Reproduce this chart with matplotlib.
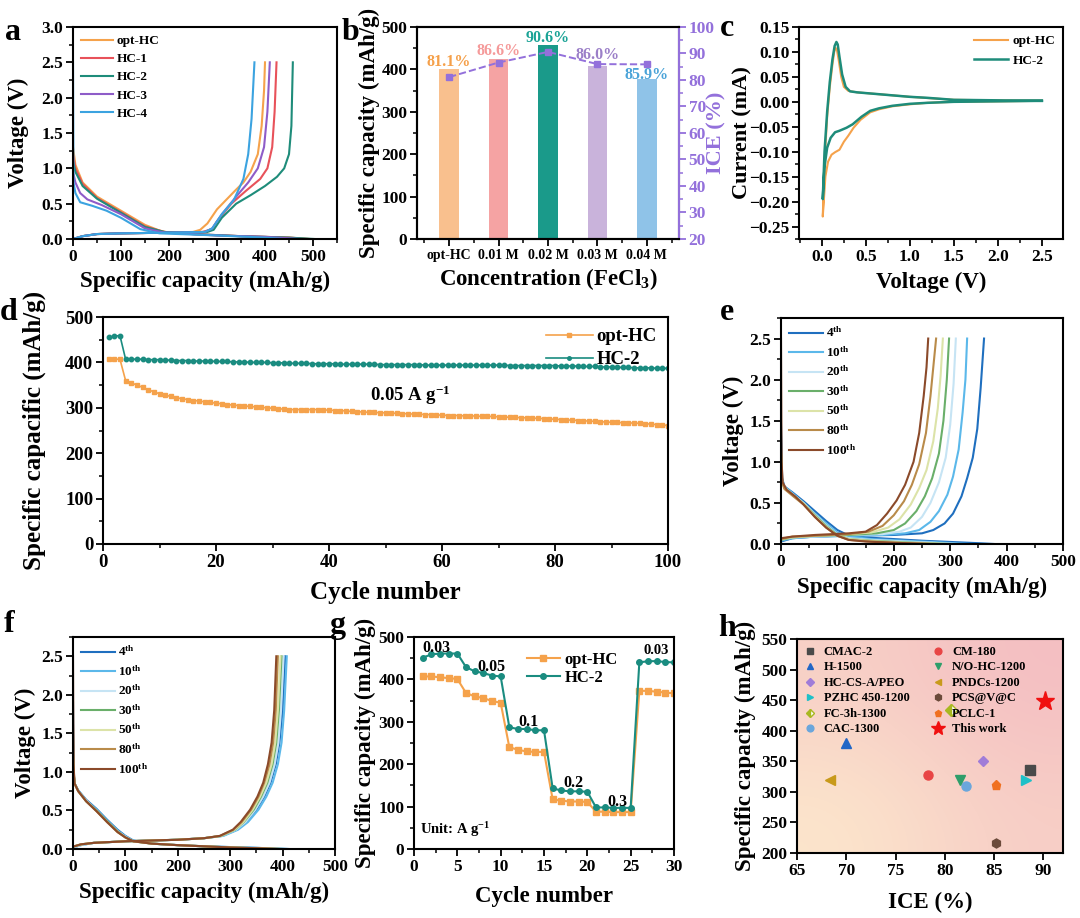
import numpy as np
import matplotlib
matplotlib.use('Agg')
import matplotlib.pyplot as plt
from matplotlib.ticker import MultipleLocator
from matplotlib.colors import LinearSegmentedColormap

plt.rcParams.update({
    'font.family': ['Liberation Serif', 'DejaVu Serif'],
    'font.weight': 'bold',
    'axes.labelweight': 'bold',
    'axes.linewidth': 1.5,
    'xtick.major.width': 1.3, 'ytick.major.width': 1.3,
    'xtick.minor.width': 1.1, 'ytick.minor.width': 1.1,
    'xtick.major.size': 5, 'ytick.major.size': 5,
    'xtick.minor.size': 3, 'ytick.minor.size': 3,
    'xtick.direction': 'out', 'ytick.direction': 'out',
    'xtick.major.pad': 2.5, 'ytick.major.pad': 2.0,
    'xtick.labelsize': 12.5, 'ytick.labelsize': 12.5,
    'mathtext.fontset': 'custom',
    'mathtext.rm': 'Liberation Serif:bold',
    'mathtext.bf': 'Liberation Serif:bold',
    'mathtext.it': 'Liberation Serif:bold:italic',
    'legend.frameon': False,
})

# ---------------- DATA ----------------
# (a) first-cycle GCD curves: capacity (mAh/g), voltage (V)
a_labels = ['opt-HC', 'HC-1', 'HC-2', 'HC-3', 'HC-4']
a_colors = ['#F5A24B', '#E8525A', '#1E8C7A', '#8E5CC8', '#3BA3E0']
a_charge = {
    'opt-HC': ([0, 20, 50, 100, 200, 250, 265, 280, 300, 320, 340, 355, 370, 385, 393, 398, 400],
               [0.0, 0.04, 0.07, 0.08, 0.09, 0.10, 0.13, 0.22, 0.42, 0.56, 0.70, 0.80, 0.95, 1.2, 1.6, 2.1, 2.5]),
    'HC-1': ([0, 20, 50, 100, 200, 270, 290, 300, 330, 360, 390, 405, 415, 420, 424],
             [0.0, 0.04, 0.07, 0.08, 0.09, 0.10, 0.14, 0.25, 0.50, 0.68, 0.85, 1.0, 1.3, 1.8, 2.5]),
    'HC-2': ([0, 20, 50, 100, 200, 280, 293, 310, 340, 370, 400, 425, 440, 450, 455, 458],
             [0.0, 0.04, 0.07, 0.08, 0.09, 0.10, 0.13, 0.30, 0.50, 0.62, 0.75, 0.88, 1.0, 1.2, 1.6, 2.5]),
    'HC-3': ([0, 20, 50, 100, 200, 275, 290, 310, 340, 365, 385, 398, 405, 410],
             [0.0, 0.04, 0.07, 0.08, 0.09, 0.10, 0.15, 0.35, 0.60, 0.80, 1.0, 1.3, 1.8, 2.5]),
    'HC-4': ([0, 20, 50, 100, 200, 275, 290, 310, 335, 355, 365, 372, 378],
             [0.0, 0.04, 0.07, 0.08, 0.09, 0.10, 0.15, 0.35, 0.55, 0.85, 1.2, 1.7, 2.5]),
}
a_discharge = {
    'opt-HC': ([0, 5, 20, 50, 100, 150, 180, 200, 250, 300, 400, 450, 493],
               [1.3, 1.05, 0.8, 0.6, 0.4, 0.2, 0.12, 0.09, 0.07, 0.05, 0.03, 0.02, 0.0]),
    'HC-1': ([0, 5, 20, 50, 100, 150, 190, 250, 350, 450, 491],
             [1.2, 1.0, 0.78, 0.58, 0.38, 0.18, 0.10, 0.07, 0.04, 0.02, 0.0]),
    'HC-2': ([0, 5, 20, 50, 100, 150, 190, 250, 350, 450, 503],
             [1.1, 0.95, 0.75, 0.57, 0.37, 0.17, 0.10, 0.07, 0.04, 0.02, 0.0]),
    'HC-3': ([0, 5, 15, 30, 60, 100, 150, 190, 300, 400, 474],
             [0.95, 0.8, 0.65, 0.56, 0.48, 0.35, 0.15, 0.09, 0.05, 0.03, 0.0]),
    'HC-4': ([0, 1, 5, 15, 40, 70, 100, 140, 180, 300, 400, 440],
             [2.5, 0.8, 0.65, 0.52, 0.47, 0.40, 0.30, 0.14, 0.08, 0.05, 0.02, 0.0]),
}

# (b) capacity bars and ICE
b_categories = ['opt-HC', '0.01 M', '0.02 M', '0.03 M', '0.04 M']
b_capacity = [400, 425, 458, 407, 378]
b_ice = [81.1, 86.6, 90.6, 86.0, 85.9]
b_ice_labels = ['81.1%', '86.6%', '90.6%', '86.0%', '85.9%']
b_label_y = [417, 443, 475, 433, 386]
b_bar_colors = ['#F9C08E', '#F5A3A3', '#1A9A8A', '#C9B3DB', '#8FC3E8']
b_text_colors = ['#F5A04A', '#F59A9A', '#1AA396', '#9B7FC8', '#4AA3D8']

# (c) CV curves: voltage (V), current (mA)
c_hc2_v = [2.5, 2.0, 1.5, 1.2, 1.0, 0.8, 0.65, 0.55, 0.45, 0.35, 0.28, 0.2, 0.15, 0.1, 0.06, 0.03, 0.01,
           0.03, 0.06, 0.09, 0.12, 0.145, 0.165, 0.18, 0.2, 0.23, 0.27, 0.32, 0.4, 0.6, 0.8, 1.0, 1.2, 1.5, 2.0, 2.5]
c_hc2_i = [0.002, 0.001, 0.0, -0.002, -0.004, -0.008, -0.013, -0.018, -0.03, -0.045, -0.052, -0.058, -0.061,
           -0.072, -0.092, -0.13, -0.195,
           -0.1, -0.02, 0.04, 0.085, 0.112, 0.12, 0.115, 0.09, 0.055, 0.03, 0.021, 0.019, 0.016, 0.013, 0.010,
           0.008, 0.004, 0.003, 0.002]
c_opt_v = [2.5, 2.0, 1.5, 1.2, 1.0, 0.8, 0.65, 0.55, 0.44, 0.36, 0.3, 0.25, 0.2, 0.15, 0.11, 0.07, 0.04, 0.01,
           0.03, 0.06, 0.09, 0.12, 0.14, 0.155, 0.17, 0.19, 0.22, 0.25, 0.3, 0.4, 0.6, 0.8, 1.0, 1.5, 2.0, 2.5]
c_opt_i = [0.002, 0.001, 0.0, -0.002, -0.005, -0.009, -0.015, -0.021, -0.036, -0.052, -0.068, -0.08, -0.096,
           -0.101, -0.106, -0.12, -0.15, -0.23,
           -0.12, -0.03, 0.03, 0.075, 0.1, 0.108, 0.105, 0.085, 0.05, 0.03, 0.022, 0.019, 0.016, 0.013, 0.010,
           0.004, 0.003, 0.002]

# (d) cycling at 0.05 A/g
d_cycles = list(range(1, 101))
d_opt = [407, 407, 407, 360, 355, 350, 345, 340, 335, 331,
         328, 325, 322, 320, 318, 316, 315, 313, 312, 310,
         309, 307, 306, 305, 304, 303, 302, 301, 300, 299,
         298, 297, 296, 296, 296, 296, 296, 296, 295, 295,
         294, 294, 293, 292, 291, 291, 290, 290, 289, 289,
         288, 288, 287, 287, 286, 286, 285, 285, 284, 284,
         283, 283, 283, 282, 282, 282, 281, 281, 281, 280,
         280, 279, 279, 278, 278, 277, 277, 276, 275, 275,
         274, 273, 273, 272, 271, 271, 270, 269, 269, 268,
         268, 267, 267, 266, 266, 265, 264, 263, 262, 261]
d_hc2 = [455, 458, 459, 407, 407, 407, 407, 406, 406, 406,
         405, 405, 404, 404, 404, 403, 403, 403, 403, 402,
         402, 402, 401, 401, 401, 400, 400, 400, 400, 399,
         399, 399, 398, 398, 398, 398, 397, 397, 397, 397,
         397, 396, 396, 396, 396, 396, 396, 396, 395, 395,
         395, 395, 395, 395, 395, 395, 394, 394, 394, 394,
         394, 394, 394, 394, 394, 394, 394, 394, 394, 394,
         394, 393, 393, 393, 393, 393, 393, 393, 393, 393,
         392, 392, 392, 392, 391, 391, 391, 390, 390, 390,
         389, 389, 389, 388, 388, 388, 388, 387, 387, 387]

# (e) opt-HC and (f) HC-2 GCD curves at selected cycles
cyc_labels = ['4$^{\\rm th}$', '10$^{\\rm th}$', '20$^{\\rm th}$', '30$^{\\rm th}$',
              '50$^{\\rm th}$', '80$^{\\rm th}$', '100$^{\\rm th}$']
cyc_colors = ['#1F6FBF', '#5BB8EA', '#C6E4F4', '#6AAF6A', '#DCE3A8', '#B98B4A', '#8B4A2A']
e_charge = [
    ([0, 20, 60, 120, 200, 250, 270, 290, 305, 320, 330, 340, 348, 354, 360],
     [0.03, 0.07, 0.09, 0.10, 0.11, 0.13, 0.17, 0.25, 0.37, 0.58, 0.80, 1.05, 1.4, 1.9, 2.5]),
    ([0, 20, 60, 120, 180, 220, 245, 265, 280, 295, 305, 315, 322, 327, 330],
     [0.04, 0.07, 0.09, 0.10, 0.11, 0.13, 0.17, 0.27, 0.40, 0.60, 0.82, 1.15, 1.6, 2.0, 2.5]),
    ([0, 20, 60, 120, 180, 210, 230, 250, 265, 280, 292, 300, 306, 310],
     [0.05, 0.08, 0.09, 0.11, 0.12, 0.15, 0.20, 0.33, 0.50, 0.75, 1.05, 1.45, 1.95, 2.5]),
    ([0, 20, 60, 120, 170, 200, 220, 240, 255, 268, 280, 288, 294, 298],
     [0.05, 0.08, 0.10, 0.11, 0.13, 0.17, 0.25, 0.40, 0.58, 0.80, 1.10, 1.5, 2.0, 2.5]),
    ([0, 20, 60, 120, 160, 190, 210, 230, 245, 258, 270, 278, 283, 287],
     [0.06, 0.08, 0.10, 0.12, 0.14, 0.20, 0.30, 0.48, 0.68, 0.90, 1.25, 1.65, 2.05, 2.5]),
    ([0, 20, 60, 120, 155, 180, 200, 218, 232, 245, 257, 265, 270, 275],
     [0.06, 0.09, 0.10, 0.12, 0.15, 0.22, 0.35, 0.52, 0.72, 0.97, 1.35, 1.8, 2.15, 2.5]),
    ([0, 20, 60, 120, 150, 170, 188, 205, 220, 235, 245, 253, 258, 261],
     [0.07, 0.09, 0.11, 0.13, 0.15, 0.23, 0.37, 0.53, 0.72, 1.00, 1.35, 1.8, 2.15, 2.5]),
]
e_discharge = [
    ([0, 2, 6, 20, 40, 60, 80, 100, 115, 150, 200, 250, 300, 350, 378],
     [1.45, 0.8, 0.7, 0.63, 0.52, 0.40, 0.28, 0.17, 0.12, 0.08, 0.06, 0.04, 0.025, 0.01, 0.0]),
    ([0, 2, 6, 20, 40, 60, 80, 100, 120, 160, 220, 280, 333],
     [1.3, 0.78, 0.7, 0.62, 0.50, 0.37, 0.25, 0.14, 0.09, 0.06, 0.04, 0.02, 0.0]),
    ([0, 2, 6, 20, 40, 60, 80, 100, 120, 160, 220, 270, 312],
     [1.2, 0.77, 0.69, 0.61, 0.50, 0.36, 0.23, 0.12, 0.07, 0.05, 0.03, 0.015, 0.0]),
    ([0, 2, 6, 20, 40, 60, 80, 100, 120, 160, 220, 300],
     [1.1, 0.76, 0.69, 0.60, 0.49, 0.35, 0.22, 0.11, 0.06, 0.04, 0.02, 0.0]),
    ([0, 2, 6, 20, 40, 60, 80, 100, 120, 160, 220, 289],
     [1.0, 0.76, 0.68, 0.60, 0.49, 0.34, 0.21, 0.10, 0.06, 0.035, 0.015, 0.0]),
    ([0, 2, 6, 20, 40, 60, 80, 100, 120, 160, 220, 277],
     [1.2, 0.75, 0.67, 0.59, 0.48, 0.33, 0.20, 0.10, 0.05, 0.03, 0.01, 0.0]),
    ([0, 1, 3, 10, 25, 40, 60, 80, 100, 120, 150, 200, 263],
     [2.5, 1.0, 0.75, 0.66, 0.58, 0.48, 0.33, 0.20, 0.10, 0.05, 0.03, 0.015, 0.0]),
]
f_charge = [
    ([0, 15, 40, 100, 200, 250, 285, 312, 330, 350, 365, 377, 387, 394, 400, 405],
     [0.02, 0.05, 0.08, 0.10, 0.12, 0.14, 0.17, 0.25, 0.35, 0.51, 0.68, 0.86, 1.1, 1.38, 1.8, 2.5]),
    ([0, 15, 40, 100, 200, 250, 287, 315, 334, 354, 369, 381, 391, 398, 403, 408],
     [0.02, 0.05, 0.08, 0.10, 0.12, 0.14, 0.17, 0.25, 0.35, 0.51, 0.68, 0.86, 1.1, 1.38, 1.8, 2.5]),
    ([0, 15, 40, 100, 200, 250, 284, 311, 329, 348, 363, 375, 385, 392, 397, 402],
     [0.02, 0.05, 0.08, 0.10, 0.12, 0.14, 0.17, 0.25, 0.35, 0.51, 0.68, 0.86, 1.1, 1.38, 1.8, 2.5]),
    ([0, 15, 40, 100, 200, 250, 283, 309, 326, 345, 359, 371, 381, 388, 393, 398],
     [0.03, 0.06, 0.08, 0.10, 0.12, 0.14, 0.17, 0.25, 0.35, 0.51, 0.68, 0.86, 1.1, 1.38, 1.8, 2.5]),
    ([0, 15, 40, 100, 200, 250, 282, 308, 325, 343, 357, 369, 379, 386, 391, 396],
     [0.03, 0.06, 0.08, 0.10, 0.12, 0.14, 0.17, 0.25, 0.35, 0.51, 0.68, 0.86, 1.1, 1.38, 1.8, 2.5]),
    ([0, 15, 40, 100, 200, 250, 281, 306, 322, 340, 354, 365, 375, 382, 387, 391],
     [0.03, 0.06, 0.08, 0.10, 0.12, 0.14, 0.17, 0.25, 0.35, 0.51, 0.68, 0.86, 1.1, 1.38, 1.8, 2.5]),
    ([0, 15, 40, 100, 200, 250, 280, 305, 320, 338, 352, 363, 372, 379, 384, 388],
     [0.03, 0.06, 0.08, 0.10, 0.12, 0.14, 0.17, 0.25, 0.35, 0.51, 0.68, 0.86, 1.1, 1.38, 1.8, 2.5]),
]
f_discharge = [
    ([0, 1, 3, 10, 25, 45, 65, 85, 100, 115, 150, 200, 250, 300, 350, 410],
     [1.9, 1.0, 0.85, 0.76, 0.64, 0.52, 0.38, 0.25, 0.17, 0.11, 0.07, 0.05, 0.035, 0.025, 0.015, 0.0]),
    ([0, 1, 3, 10, 25, 45, 65, 85, 100, 115, 150, 200, 250, 300, 350, 412],
     [1.5, 1.0, 0.85, 0.76, 0.63, 0.51, 0.37, 0.24, 0.16, 0.11, 0.07, 0.05, 0.035, 0.025, 0.015, 0.0]),
    ([0, 1, 3, 10, 25, 45, 65, 85, 100, 115, 150, 200, 250, 300, 350, 405],
     [1.3, 1.0, 0.85, 0.75, 0.63, 0.50, 0.36, 0.23, 0.16, 0.10, 0.07, 0.05, 0.035, 0.02, 0.01, 0.0]),
    ([0, 1, 3, 10, 25, 45, 65, 85, 100, 115, 150, 200, 250, 300, 350, 400],
     [1.2, 1.0, 0.85, 0.75, 0.62, 0.50, 0.36, 0.23, 0.15, 0.10, 0.07, 0.05, 0.035, 0.02, 0.01, 0.0]),
    ([0, 1, 3, 10, 25, 45, 65, 85, 100, 115, 150, 200, 250, 300, 350, 398],
     [1.2, 1.0, 0.85, 0.75, 0.62, 0.49, 0.35, 0.22, 0.15, 0.10, 0.07, 0.05, 0.035, 0.02, 0.01, 0.0]),
    ([0, 1, 3, 10, 25, 45, 65, 85, 100, 115, 150, 200, 250, 300, 350, 395],
     [1.6, 1.05, 0.85, 0.75, 0.62, 0.49, 0.35, 0.22, 0.15, 0.10, 0.07, 0.05, 0.035, 0.02, 0.01, 0.0]),
    ([0, 1, 3, 10, 25, 45, 65, 85, 100, 115, 150, 200, 250, 300, 350, 392],
     [2.5, 1.1, 0.85, 0.75, 0.62, 0.49, 0.35, 0.22, 0.15, 0.10, 0.07, 0.05, 0.035, 0.02, 0.01, 0.0]),
]

# (g) rate performance
g_cycles = list(range(1, 31))
g_opt = [407, 407, 405, 403, 401, 368, 360, 356, 349, 345,
         240, 234, 230, 229, 229, 117, 114, 112, 112, 111,
         88, 88, 87, 87, 87, 373, 373, 371, 369, 367]
g_hc2 = [451, 459, 461, 461, 461, 429, 419, 415, 409, 407,
         287, 283, 283, 280, 280, 143, 138, 136, 136, 135,
         98, 98, 97, 97, 97, 440, 443, 443, 441, 440]
g_rate_text = ['0.03', '0.05', '0.1', '0.2', '0.3', '0.03']
g_rate_x = [2.6, 8.9, 13.2, 18.4, 23.5, 28.0]
g_rate_y = [475, 430, 300, 156, 111, 467]
g_rate_size = [11.5, 11.5, 11.5, 11.5, 11.5, 10.5]

# (h) comparison of ICE vs capacity
h_names = ['CMAC-2', 'H-1500', 'HC-CS-A/PEO', 'PZHC 450-1200', 'FC-3h-1300', 'CAC-1300',
           'CM-180', 'N/O-HC-1200', 'PNDCs-1200', 'PCS@V@C', 'PCLC-1', 'This work']
h_ice = [88.6, 70.0, 83.9, 88.2, 80.6, 82.2, 78.3, 81.5, 68.3, 85.2, 85.2, 90.2]
h_cap = [335, 380, 350, 320, 434, 309, 327, 319, 320, 217, 312, 449]
h_markers = ['s', '^', 'D', '>', 'D', 'o', 'o', 'v', '<', 'h', 'p', '*']
h_colors = ['#4A4A4A', '#2166C6', '#A07CD8', '#1EC0C8', '#A8B820', '#6AA6DC',
            '#E84545', '#2E9E6A', '#C89A1A', '#6B4A3A', '#F07020', '#F01010']

# ---------------- FIGURE ----------------
W, H = 1080, 918
fig = plt.figure(figsize=(W / 100, H / 100), dpi=100)


def add_ax(l, t, r, b):
    return fig.add_axes([l / W, 1 - b / H, (r - l) / W, (b - t) / H])


def labels(ax, xl, yl, xy, yx, size=16.5):
    ax.set_xlabel(xl, fontsize=size)
    ax.set_ylabel(yl, fontsize=size)
    ax.xaxis.set_label_coords(0.5, xy)
    ax.yaxis.set_label_coords(yx, 0.5)


# ---- (a)
ax = add_ax(73, 27, 337, 239)
for lab, col in zip(a_labels, a_colors):
    ax.plot(*a_discharge[lab], color=col, lw=1.5)
    ax.plot(*a_charge[lab], color=col, lw=1.5, label=lab)
ax.set_xlim(0, 550)
ax.set_ylim(0, 3.0)
ax.xaxis.set_major_locator(MultipleLocator(100))
ax.xaxis.set_minor_locator(MultipleLocator(50))
ax.yaxis.set_major_locator(MultipleLocator(0.5))
ax.yaxis.set_minor_locator(MultipleLocator(0.25))
labels(ax, 'Specific capacity (mAh/g)', 'Voltage (V)', -0.15, -0.165)
ax.legend(loc='upper left', fontsize=9.5, handlelength=2.4, labelspacing=0.45,
          borderaxespad=0.2, handletextpad=0.3)

# ---- (b)
ax = add_ax(417, 27, 679, 239)
xb = np.arange(len(b_categories))
ax.bar(xb, b_capacity, width=0.4, color=b_bar_colors)
for i in range(len(xb)):
    ax.text(xb[i], b_label_y[i], b_ice_labels[i], color=b_text_colors[i], ha='center',
            va='center', fontsize=11.5)
ax.set_xlim(-0.65, 4.65)
ax.set_ylim(0, 500)
ax.set_xticks(xb)
ax.set_xticklabels(b_categories, fontsize=10)
ax.yaxis.set_major_locator(MultipleLocator(100))
ax.yaxis.set_minor_locator(MultipleLocator(50))
ax.set_xticks(np.arange(-0.5, 5, 1.0), minor=True)
labels(ax, 'Concentration (FeCl$_3$)', 'Specific capacity (mAh/g)', -0.13, -0.14)
pur = '#9370DB'
ax2 = ax.twinx()
ax2.plot(xb, b_ice, color=pur, ls='--', lw=1.4, marker='s', ms=4)
ax2.set_ylim(20, 100)
ax2.yaxis.set_major_locator(MultipleLocator(10))
ax2.yaxis.set_minor_locator(MultipleLocator(5))
ax2.tick_params(axis='y', which='both', colors=pur, labelcolor=pur)
ax2.spines['right'].set_color(pur)
ax2.set_ylabel('ICE (%)', color=pur, fontsize=16)
ax2.yaxis.set_label_coords(1.106, 0.5)

# ---- (c)
ax = add_ax(799, 27, 1063, 239)
ax.plot(c_opt_v, c_opt_i, color='#F5A24B', lw=1.5, label='opt-HC')
ax.plot(c_hc2_v, c_hc2_i, color='#1E8C7A', lw=1.8, label='HC-2')
ax.set_xlim(-0.26, 2.74)
ax.set_ylim(-0.275, 0.15)
ax.xaxis.set_major_locator(MultipleLocator(0.5))
ax.xaxis.set_minor_locator(MultipleLocator(0.25))
ax.yaxis.set_major_locator(MultipleLocator(0.05))
ax.yaxis.set_minor_locator(MultipleLocator(0.025))
labels(ax, 'Voltage (V)', 'Current (mA)', -0.155, -0.176, size=16)
ax.xaxis.label.set_fontsize(16.5)
ax.legend(loc='upper right', fontsize=9.5, handlelength=2.6, labelspacing=0.55,
          borderaxespad=0.2, handletextpad=0.3)

# ---- (d)
ax = add_ax(103, 317, 668, 544)
ax.plot(d_cycles, d_opt, color='#F5A24B', lw=1.2, marker='s', ms=3.2, label='opt-HC')
ax.plot(d_cycles, d_hc2, color='#1A8C80', lw=1.2, marker='o', ms=3.2, label='HC-2')
ax.set_xlim(0, 100)
ax.set_ylim(0, 500)
ax.xaxis.set_major_locator(MultipleLocator(20))
ax.xaxis.set_minor_locator(MultipleLocator(10))
ax.yaxis.set_major_locator(MultipleLocator(100))
ax.yaxis.set_minor_locator(MultipleLocator(50))
ax.tick_params(labelsize=13.5)
ax.text(54.4, 328, '0.05 A g$^{-1}$', ha='center', va='center', fontsize=13.5)
labels(ax, 'Cycle number', 'Specific capacific (mAh/g)', -0.165, -0.1, size=18)
ax.legend(loc='upper right', fontsize=13.5, handlelength=2.5, labelspacing=0.3,
          borderaxespad=0.2, handletextpad=0.2, markerscale=0.8)

# ---- (e) and (f)
for (l, t, r, b), ch, dis, xy, yx in [((781, 318, 1063, 544), e_charge, e_discharge, -0.145, -0.13),
                                      ((73, 637, 335, 849), f_charge, f_discharge, -0.155, -0.14)]:
    ax = add_ax(l, t, r, b)
    for k in range(len(cyc_labels)):
        ax.plot(*dis[k], color=cyc_colors[k], lw=1.5)
        ax.plot(*ch[k], color=cyc_colors[k], lw=1.5, label=cyc_labels[k])
    ax.set_xlim(0, 500)
    ax.set_ylim(0, 2.75)
    ax.xaxis.set_major_locator(MultipleLocator(100))
    ax.xaxis.set_minor_locator(MultipleLocator(50))
    ax.yaxis.set_major_locator(MultipleLocator(0.5))
    ax.yaxis.set_minor_locator(MultipleLocator(0.25))
    labels(ax, 'Specific capacity (mAh/g)', 'Voltage (V)', xy, yx)
    ax.legend(loc='upper left', fontsize=9.5, handlelength=2.6, labelspacing=0.38,
              borderaxespad=0.2, handletextpad=0.2)

# ---- (g)
ax = add_ax(414, 637, 674, 849)
ax.plot(g_cycles, g_opt, color='#F5A24B', lw=1.5, marker='s', ms=4, label='opt-HC')
ax.plot(g_cycles, g_hc2, color='#1A8C80', lw=1.5, marker='o', ms=4, label='HC-2')
for s, x, y, fs in zip(g_rate_text, g_rate_x, g_rate_y, g_rate_size):
    ax.text(x, y, s, ha='center', va='center', fontsize=fs)
ax.text(0.7, 46, 'Unit: A g$^{-1}$', ha='left', va='center', fontsize=10.5)
ax.set_xlim(0, 30)
ax.set_ylim(0, 500)
ax.xaxis.set_major_locator(MultipleLocator(5))
ax.xaxis.set_minor_locator(MultipleLocator(2.5))
ax.yaxis.set_major_locator(MultipleLocator(100))
ax.yaxis.set_minor_locator(MultipleLocator(50))
labels(ax, 'Cycle number', 'Specific capacity (mAh/g)', -0.175, -0.145)
ax.legend(loc='upper left', bbox_to_anchor=(0.375, 1.0), fontsize=12, handlelength=2.0,
          labelspacing=0.1, handletextpad=0.3)

# ---- (h)
ax = add_ax(797, 639, 1063, 853)
ax.set_xlim(65, 92)
ax.set_ylim(200, 550)
bg = LinearSegmentedColormap.from_list('bg', ['#FCE6CC', '#F4BEC2'])
grad = np.array([[0.55, 1.0], [0.0, 0.6]])
ax.imshow(grad, cmap=bg, extent=[65, 92, 200, 550], aspect='auto', interpolation='bicubic',
          zorder=0, origin='upper')
for name, x, y, m, c in zip(h_names, h_ice, h_cap, h_markers, h_colors):
    kw = dict(ls='none', marker=m, color=c, label=name, ms=6.5, zorder=3)
    if name == 'This work':
        kw['ms'] = 14
    if name == 'FC-3h-1300':
        kw.update(fillstyle='left', markerfacecoloralt='white', markeredgecolor=c, ms=6)
    if m == 'D' and name != 'FC-3h-1300':
        kw['ms'] = 5.5
    ax.plot([x], [y], **kw)
ax.xaxis.set_major_locator(MultipleLocator(5))
ax.yaxis.set_major_locator(MultipleLocator(50))
labels(ax, 'ICE (%)', 'Specific capacity (mAh/g)', -0.18, -0.155)
ax.legend(loc='upper left', ncol=2, fontsize=9, handlelength=1.0, labelspacing=0.28,
          columnspacing=1.8, handletextpad=0.6, borderaxespad=0.15, markerscale=0.75)

# ---- panel letters
for s, x, y in [('a', 13, 33), ('b', 350, 33), ('c', 727, 29), ('d', 9, 312), ('e', 727, 313),
                ('f', 9, 625), ('g', 337, 625), ('h', 727, 628)]:
    fig.text(x / W, 1 - y / H, s, fontsize=23, ha='center', va='center')

fig.savefig('out.png', dpi=100)
